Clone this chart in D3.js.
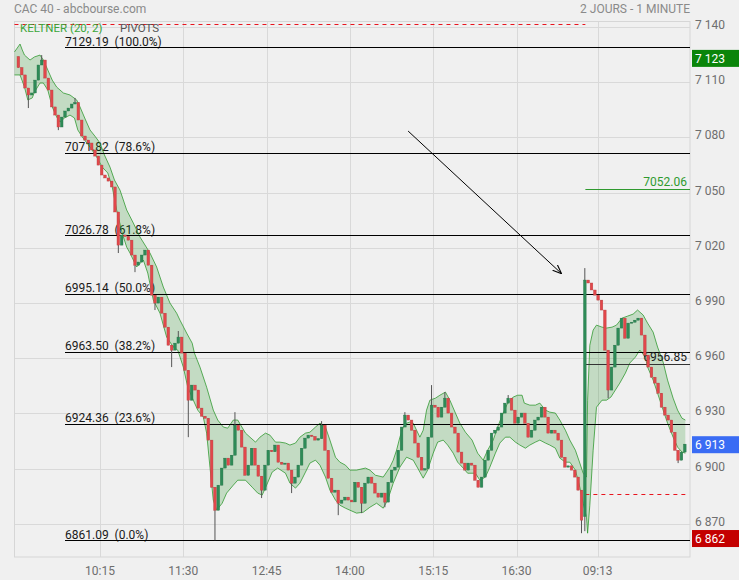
<!DOCTYPE html>
<html><head><meta charset="utf-8">
<script src="https://cdn.jsdelivr.net/npm/d3@7"></script>
<style>html,body{margin:0;padding:0;background:#f0f0f0;} svg{display:block;font-family:Roboto,'Noto Sans',sans-serif;}</style>
</head><body><svg id="c" width="739" height="580"></svg>
<script>
// ---------- DATA ----------
// 3-minute candles, index 0..169 = day 1 (09:00-17:30), 170..200 = day 2 (from 09:00)
const closes = [
7118.0,7114.0,7106.9,7103.1,7104.2,7111.2,7119.4,7122.1,7112.3,7105.8,
7096.6,7092.2,7085.7,7091.1,7094.4,7096.0,7098.2,7099.0,7089.5,7080.8,
7078.6,7077.0,7073.2,7069.9,7065.0,7059.6,7058.0,7056.3,7053.1,7039.5,
7021.5,7027.0,7026.2,7024.2,7016.1,7010.6,7012.3,7016.1,7018.8,7010.6,
6994.3,6990.0,6993.2,6984.5,6976.9,6967.1,6964.4,6968.2,6971.5,6962.8,
6953.5,6937.2,6945.4,6942.7,6932.9,6928.5,6927.4,6915.5,6889.9,6877.4,
6891.0,6900.3,6905.7,6901.9,6907.3,6923.6,6920.9,6911.7,6896.4,6901.9,
6911.1,6901.9,6895.9,6888.3,6901.9,6910.0,6909.2,6912.8,6903.5,6902.4,
6903.0,6899.2,6892.1,6895.4,6901.9,6911.1,6916.6,6918.2,6917.5,6915.5,
6916.3,6923.6,6910.0,6894.8,6887.2,6888.3,6881.2,6882.9,6884.5,6882.9,
6881.9,6892.6,6889.9,6881.2,6892.1,6895.4,6892.1,6886.7,6884.5,6886.7,
6881.8,6892.6,6899.2,6900.8,6910.0,6922.6,6929.1,6926.4,6920.9,6913.9,
6906.2,6899.2,6900.0,6917.1,6934.5,6933.4,6928.0,6933.4,6938.3,6930.2,
6922.6,6919.3,6909.0,6903.0,6899.2,6903.0,6901.9,6893.7,6889.9,6895.4,
6904.6,6910.0,6919.3,6920.9,6922.6,6930.2,6935.6,6938.3,6931.8,6924.7,
6928.0,6930.2,6924.7,6917.1,6920.9,6926.4,6928.0,6933.4,6928.0,6919.3,
6920.9,6919.3,6915.5,6906.2,6900.8,6901.5,6899.2,6895.4,6888.3,6872.0,
7002.5,7000.9,6997.1,6994.3,6991.6,6986.2,6964.4,6942.7,6955.2,6967.1,
6976.4,6981.8,6970.9,6979.1,6979.6,6980.7,6981.8,6972.6,6961.7,6955.2,
6949.7,6946.5,6941.0,6933.4,6929.1,6926.4,6919.8,6910.0,6904.6,6909.0,
6913.3];
const candleMinutes = 3;
const sessionOpens = [[0, 7124.0], [170, 6874.0]];          // [candle index, opening price]
const wickExtremes = [                                        // [candle index, high, low]
 [3,null,7096.0],[7,7124.8,null],[12,null,7084.0],[17,7101.5,null],[30,null,7017.2],
 [35,null,7006.8],[41,null,6986.2],[46,null,6955.2],[48,6974.8,null],[51,null,6917.1],
 [59,null,6861.1],[65,6930.7,null],[73,null,6884.0],[82,null,6886.7],[91,6925.8,null],
 [96,null,6874.7],[103,null,6875.8],[110,null,6879.0],[116,6930.7,null],[124,6945.4,null],
 [128,6941.6,null],[147,6940.0,null],[169,null,6864.9],[170,7009.0,6866.0],[177,null,6938.3],
 [198,null,6903.0]];

// Keltner (20, 2) bands: [minute, price]
const keltnerUpper = [[-2,7126.5],[3,7130.8],[5,7127.6],[7,7124.8],[12,7122.1],[16,7123.8],[21,7124.8],[24,7122.1],[28,7116.7],[32,7111.2],[36,7107.4],[42,7104.2],[48,7103.1],[54,7100.4],[57,7096.6],[62,7089.5],[66,7084.1],[71,7080.3],[75,7077.0],[79,7070.5],[84,7063.9],[88,7056.9],[93,7051.4],[99,7040.6],[105,7033.5],[111,7025.9],[120,7017.2],[126,7009.6],[132,6998.7],[138,6990.0],[144,6984.5],[147,6980.7],[153,6973.7],[158,6968.2],[160,6962.8],[165,6955.2],[171,6944.3],[177,6931.8],[181,6926.4],[186,6922.6],[190,6922.0],[195,6926.4],[199,6926.4],[206,6919.3],[210,6917.1],[215,6914.4],[219,6917.1],[224,6919.3],[228,6918.2],[233,6914.4],[237,6914.4],[242,6913.9],[246,6912.8],[251,6913.9],[255,6917.1],[260,6919.3],[264,6919.8],[269,6922.6],[273,6924.7],[278,6922.6],[282,6915.5],[287,6906.2],[291,6903.5],[296,6901.9],[300,6899.2],[306,6899.2],[314,6900.3],[318,6899.2],[323,6896.4],[330,6895.4],[333,6898.1],[336,6900.8],[339,6904.6],[342,6910.0],[345,6917.1],[348,6922.6],[351,6924.7],[354,6925.3],[357,6924.7],[360,6920.9],[363,6917.1],[366,6920.9],[369,6931.8],[372,6937.2],[377,6938.3],[381,6939.9],[386,6941.6],[390,6937.2],[395,6930.2],[399,6924.7],[404,6919.8],[410,6915.5],[415,6908.4],[420,6904.6],[424,6910.0],[429,6915.5],[433,6922.6],[438,6930.2],[442,6935.6],[447,6938.9],[451,6939.9],[455,6939.9],[457,6935.6],[462,6934.5],[467,6934.5],[471,6935.6],[476,6931.8],[480,6930.7],[485,6930.2],[489,6926.4],[494,6920.9],[498,6915.5],[503,6910.0],[507,6903.0],[510,6897.5],[513,6895.4],[514,6937.2],[516,6967.1],[519,6975.3],[522,6978.0],[527,6976.9],[531,6976.4],[536,6976.9],[540,6978.0],[545,6981.8],[550,6982.9],[555,6984.0],[559,6986.2],[564,6983.5],[568,6979.1],[573,6974.2],[577,6966.1],[582,6957.9],[586,6948.1],[591,6938.3],[595,6931.8],[599,6927.4],[602,6926.4]];
const keltnerLower = [[-2,7114.0],[3,7114.0],[7,7107.4],[10,7100.4],[14,7101.5],[16,7104.7],[21,7109.6],[24,7109.6],[28,7105.8],[32,7096.6],[36,7091.1],[39,7088.4],[43,7090.6],[48,7092.2],[52,7090.6],[55,7084.1],[59,7080.3],[66,7074.8],[72,7069.4],[77,7063.9],[82,7060.7],[86,7053.1],[90,7040.6],[95,7028.0],[99,7020.4],[102,7017.2],[108,7009.6],[114,7013.4],[118,7006.3],[123,6991.6],[129,6984.5],[135,6971.5],[141,6966.1],[145,6964.4],[150,6955.2],[154,6944.3],[159,6937.2],[163,6931.8],[168,6928.0],[171,6919.3],[174,6900.8],[177,6882.9],[180,6877.4],[185,6881.2],[189,6886.7],[195,6891.0],[199,6893.7],[206,6893.7],[212,6889.9],[217,6886.7],[221,6885.6],[225,6891.0],[230,6898.1],[235,6900.3],[242,6897.5],[246,6892.1],[251,6889.4],[255,6892.1],[260,6898.1],[264,6903.0],[269,6904.6],[273,6901.9],[278,6895.4],[282,6888.3],[287,6882.9],[291,6880.1],[296,6878.5],[300,6877.4],[306,6875.8],[312,6876.3],[318,6879.0],[324,6881.2],[330,6878.5],[334,6882.9],[339,6892.1],[345,6900.8],[351,6906.2],[357,6904.6],[362,6899.2],[366,6894.8],[370,6899.2],[375,6908.4],[379,6914.4],[384,6915.5],[388,6912.8],[393,6908.4],[397,6903.5],[402,6900.3],[406,6897.5],[413,6897.5],[417,6893.7],[422,6895.4],[426,6900.8],[431,6908.4],[435,6913.9],[440,6917.1],[444,6917.1],[449,6914.4],[453,6912.8],[458,6911.1],[462,6912.8],[467,6914.4],[471,6915.5],[476,6913.9],[480,6912.8],[485,6911.1],[489,6905.7],[494,6903.5],[498,6903.5],[503,6899.2],[507,6889.9],[510,6881.2],[513,6873.6],[514,6864.9],[516,6880.1],[519,6910.0],[522,6933.4],[527,6937.2],[531,6937.2],[535,6938.9],[539,6942.7],[543,6946.5],[548,6951.9],[552,6957.4],[557,6960.6],[561,6964.4],[566,6960.6],[568,6955.2],[573,6948.1],[577,6941.0],[582,6931.8],[586,6924.7],[591,6917.1],[595,6911.7],[599,6909.0],[602,6908.4]];

// Fibonacci retracement levels
const fibPrices = [7129.19, 7071.82, 7026.78, 6995.14, 6963.50, 6924.36, 6861.09];
const fibPcts   = ["100.0%", "78.6%", "61.8%", "50.0%", "38.2%", "23.6%", "0.0%"];

// Pivot (dashed) lines: [price, from minute, to minute]
const pivotLines = [[7141.7, -2, 512], [6886.0, 512, 602]];
// Day-2 levels
const levelPrices = [7052.06, 6956.85];
const levelColors = ["#2f9a2f", "#333"];

// Axes
const priceTicks = [6870, 6900, 6930, 6960, 6990, 7020, 7050, 7080, 7110, 7140];
const timeTickMinutes = [75, 150, 225, 300, 375, 450, 523];
const timeTickLabels = ["10:15", "11:30", "12:45", "14:00", "15:15", "16:30", "09:13"];

// Price tags on right axis
const tagPrices = [7123, 6913, 6862];
const tagColors = ["#0a850a", "#3a6cf4", "#c40000"];

// Arrow annotation [minute, price]
const arrowFrom = [352.4, 7083.5];
const arrowTo = [490, 7006.3];

// ---------- CHART ----------
const svg = d3.select("#c");
const W = 739, H = 580;
const plot = {left: 14.5, right: 690, top: 21.5, bottom: 557};
const x = d3.scaleLinear().domain([0, 606]).range([16.7, 16.7 + 606 * 1.1107]);
const y = d3.scaleLinear().domain([d3.min(fibPrices), d3.max(fibPrices)]).range([540.2, 47]);
const spaceFmt = d3.formatLocale({decimal: ".", thousands: " ", grouping: [3], currency: ["", ""]}).format(",d");

svg.append("rect").attr("width", W).attr("height", H).attr("fill", "#f0f0f0");

// grid
const grid = svg.append("g").attr("stroke", "#d9d9d9").attr("stroke-width", 1);
grid.selectAll("line.h").data(priceTicks).join("line")
  .attr("x1", plot.left).attr("x2", plot.right)
  .attr("y1", d => Math.round(y(d)) + 0.5).attr("y2", d => Math.round(y(d)) + 0.5);
grid.selectAll("line.v").data(timeTickMinutes).join("line")
  .attr("x1", d => Math.round(x(d)) + 0.5).attr("x2", d => Math.round(x(d)) + 0.5)
  .attr("y1", plot.top).attr("y2", plot.bottom);
svg.append("rect").attr("x", plot.left).attr("y", plot.top)
  .attr("width", plot.right - plot.left).attr("height", plot.bottom - plot.top)
  .attr("fill", "none").attr("stroke", "#d6d6d6");

// fib labels (under band/candles)
const fibX0 = 65;
svg.append("g").selectAll("text").data(fibPrices).join("text")
  .attr("x", fibX0).attr("y", d => y(d) - 1.5)
  .attr("font-size", 12).attr("fill", "#1a1a1a")
  .attr("xml:space", "preserve")
  .text((d, i) => d.toFixed(2) + "  (" + fibPcts[i] + ")");

// Keltner band
const pt = d => [x(d[0]), y(d[1])];
const bandPts = keltnerUpper.map(pt).concat(keltnerLower.slice().reverse().map(pt));
svg.append("path").attr("d", d3.line()(bandPts) + "Z")
  .attr("fill", "rgba(0,128,0,0.19)").attr("stroke", "none");
const edge = d3.line().x(d => x(d[0])).y(d => y(d[1]));
[keltnerUpper, keltnerLower].forEach(b => svg.append("path").attr("d", edge(b))
  .attr("fill", "none").attr("stroke", "rgba(40,150,40,0.75)").attr("stroke-width", 1));

// fib lines
svg.append("g").selectAll("line").data(fibPrices).join("line")
  .attr("x1", fibX0).attr("x2", plot.right)
  .attr("y1", d => Math.round(y(d)) + 0.5).attr("y2", d => Math.round(y(d)) + 0.5)
  .attr("stroke", "#000").attr("stroke-width", 1);

// pivot dashed lines
svg.append("g").selectAll("line").data(pivotLines).join("line")
  .attr("x1", d => x(d[1])).attr("x2", d => x(d[2]))
  .attr("y1", d => Math.round(y(d[0])) + 0.5).attr("y2", d => Math.round(y(d[0])) + 0.5)
  .attr("stroke", "#e8141e").attr("stroke-width", 1).attr("stroke-dasharray", "4,4");

// day-2 levels
const lvl = svg.append("g");
lvl.selectAll("line").data(levelPrices).join("line")
  .attr("x1", x(512)).attr("x2", plot.right)
  .attr("y1", d => Math.round(y(d)) + 0.5).attr("y2", d => Math.round(y(d)) + 0.5)
  .attr("stroke", (d, i) => levelColors[i]).attr("stroke-width", 1);
lvl.selectAll("text").data(levelPrices).join("text")
  .attr("x", plot.right - 3).attr("y", d => y(d) - 3).attr("text-anchor", "end")
  .attr("font-size", 12).attr("fill", (d, i) => levelColors[i] === "#333" ? "#1a1a1a" : levelColors[i])
  .text(d => d.toFixed(2));

// candles
const openMap = new Map(sessionOpens);
const wickMap = new Map(wickExtremes.map(w => [w[0], w]));
const candles = closes.map((c, i) => {
  const o = openMap.has(i) ? openMap.get(i) : closes[i - 1];
  const w = wickMap.get(i);
  let h = Math.max(o, c), l = Math.min(o, c);
  if (w) { if (w[1] != null) h = w[1]; if (w[2] != null) l = w[2]; }
  return {i, o, c, h, l};
});
const bw = (x(candleMinutes) - x(0)) * 0.8;
const cx = d => x(d.i * candleMinutes + candleMinutes / 2);
const cg = svg.append("g");
cg.selectAll("line").data(candles).join("line")
  .attr("x1", cx).attr("x2", cx)
  .attr("y1", d => y(d.h)).attr("y2", d => y(d.l))
  .attr("stroke", "#555").attr("stroke-width", 1);
cg.selectAll("rect").data(candles).join("rect")
  .attr("x", d => cx(d) - bw / 2).attr("width", bw)
  .attr("y", d => y(Math.max(d.o, d.c)))
  .attr("height", d => Math.max(1, Math.abs(y(d.o) - y(d.c))))
  .attr("fill", d => d.c >= d.o ? "#2e8b57" : "#e2474b")
  .attr("stroke", d => d.c >= d.o ? "#27764a" : "#b84444").attr("stroke-width", 0.4);

// arrow
const defs = svg.append("defs");
defs.append("marker").attr("id", "ah").attr("viewBox", "0 0 10 10").attr("refX", 9).attr("refY", 5)
  .attr("markerWidth", 9).attr("markerHeight", 9).attr("orient", "auto")
  .append("path").attr("d", "M0,1 L10,5 L0,9").attr("fill", "none").attr("stroke", "#000").attr("stroke-width", 1.2);
svg.append("line")
  .attr("x1", x(arrowFrom[0])).attr("y1", y(arrowFrom[1]))
  .attr("x2", x(arrowTo[0])).attr("y2", y(arrowTo[1]))
  .attr("stroke", "#000").attr("stroke-width", 1).attr("marker-end", "url(#ah)");

// right axis
svg.append("g").selectAll("text").data(priceTicks).join("text")
  .attr("x", 695).attr("y", d => y(d) + 2).attr("font-size", 12).attr("fill", "#6e6e6e")
  .text(d => spaceFmt(d));
const tags = svg.append("g").selectAll("g").data(tagPrices).join("g");
tags.append("rect").attr("x", 692).attr("y", d => y(d) - 8.5).attr("width", W - 692).attr("height", 17)
  .attr("fill", (d, i) => tagColors[i]);
tags.append("text").attr("x", 695).attr("y", d => y(d) + 4.5).attr("font-size", 12).attr("fill", "#fff")
  .text(d => spaceFmt(d));

// bottom axis
svg.append("g").selectAll("text").data(timeTickMinutes).join("text")
  .attr("x", d => x(d)).attr("y", 575).attr("text-anchor", "middle")
  .attr("font-size", 12).attr("fill", "#6e6e6e")
  .text((d, i) => timeTickLabels[i]);

// header
svg.append("text").attr("x", 14).attr("y", 13).attr("font-size", 12).attr("fill", "#8a8a8a").text("CAC 40 - abcbourse.com");
svg.append("text").attr("x", plot.right).attr("y", 13).attr("text-anchor", "end").attr("font-size", 12).attr("fill", "#8a8a8a").text("2 JOURS - 1 MINUTE");
svg.append("text").attr("x", 20).attr("y", 31.5).attr("font-size", 11.5).attr("fill", "#3aa63a").text("KELTNER (20, 2)");
svg.append("text").attr("x", 120).attr("y", 31.5).attr("font-size", 11.5).attr("fill", "#555").text("PIVOTS");
</script></body></html>
